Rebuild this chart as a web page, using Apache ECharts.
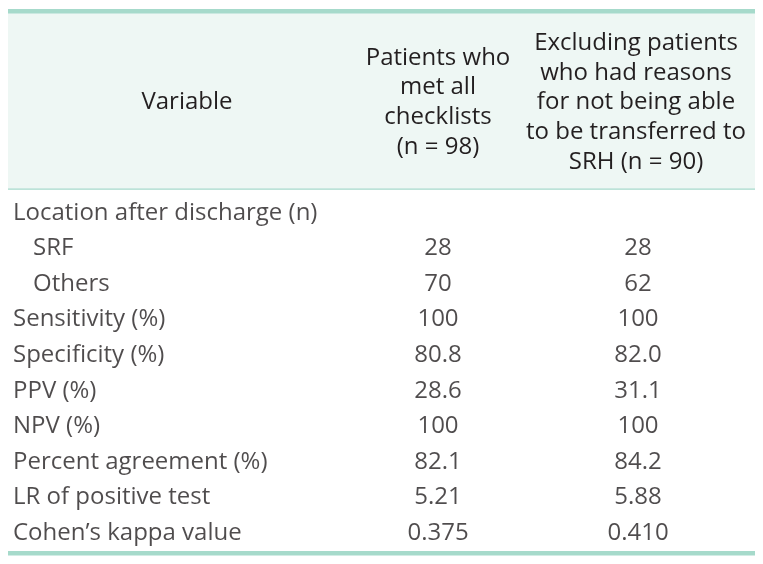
<!DOCTYPE html>
<html><head><meta charset="utf-8">
<script src="https://cdn.jsdelivr.net/npm/echarts@6/dist/echarts.min.js"></script>
<style>html,body{margin:0;padding:0;background:#fff}#c{width:763px;height:564px}</style>
</head><body><div id="c"></div>
<script>
// ---- data ----
const headerVariable = "Variable";
const headerCol1 = ["Patients who", "met all", "checklists", "(n = 98)"];
const headerCol2 = ["Excluding patients", "who had reasons", "for not being able", "to be transferred to", "SRH (n = 90)"];
const variables = ["Location after discharge (n)", "SRF", "Others", "Sensitivity (%)", "Specificity (%)", "PPV (%)", "NPV (%)", "Percent agreement (%)", "LR of positive test", "Cohen\u2019s kappa value"];
const indentLevel = [0, 1, 1, 0, 0, 0, 0, 0, 0, 0];
const col1Values = ["", "28", "70", "100", "80.8", "28.6", "100", "82.1", "5.21", "0.375"];
const col2Values = ["", "28", "62", "100", "82.0", "31.1", "100", "84.2", "5.88", "0.410"];

// ---- layout ----
const W = 763, H = 564;
const FONT = "'Open Sans'";
const FS = 24;
const TXT = "#231f20";
const TEAL = "#a6dacb";
const HEAD_BG = "#eef7f4";
const colX = [13, 438, 638];
const indentPx = 20;

const data = [];
variables.forEach((v, i) => {
  data.push({ value: [colX[0] + indentLevel[i] * indentPx, i], name: v, label: { align: 'left' } });
  if (col1Values[i] !== "") data.push({ value: [colX[1], i], name: col1Values[i], label: { align: 'center' } });
  if (col2Values[i] !== "") data.push({ value: [colX[2], i], name: col2Values[i], label: { align: 'center' } });
});

const chart = echarts.init(document.getElementById('c'), null, { renderer: 'canvas' });
chart.setOption({
  animation: false,
  backgroundColor: '#ffffff',
  grid: { left: 0, right: 0, top: 195, bottom: 13 },
  xAxis: { type: 'value', min: 0, max: W, show: false },
  yAxis: { type: 'category', data: variables, inverse: true, show: false },
  graphic: [
    { type: 'rect', shape: { x: 8, y: 13, width: 747, height: 176 }, style: { fill: HEAD_BG }, silent: true },
    { type: 'rect', shape: { x: 8, y: 9, width: 747, height: 4.5 }, style: { fill: TEAL }, silent: true },
    { type: 'rect', shape: { x: 8, y: 188.5, width: 747, height: 1.2 }, style: { fill: TEAL }, silent: true },
    { type: 'rect', shape: { x: 8, y: 551, width: 747, height: 4.5 }, style: { fill: TEAL }, silent: true },
    { type: 'text', style: { text: headerVariable, x: 187, y: 102.5, align: 'center', verticalAlign: 'middle', font: FS + 'px ' + FONT, fill: TXT } },
    { type: 'text', style: { text: headerCol1.join('\n'), x: 438, y: 102.5, align: 'center', verticalAlign: 'middle', font: FS + 'px ' + FONT, lineHeight: 29.7, fill: TXT } },
    { type: 'text', style: { text: headerCol2.join('\n'), x: 636, y: 102.5, align: 'center', verticalAlign: 'middle', font: FS + 'px ' + FONT, lineHeight: 29.7, fill: TXT } }
  ],
  series: [{
    type: 'scatter',
    symbolSize: 0,
    data: data,
    label: {
      show: true,
      position: 'inside',
      formatter: p => p.name,
      fontFamily: FONT,
      fontSize: FS,
      color: TXT,
      verticalAlign: 'middle'
    }
  }]
});
</script></body></html>
